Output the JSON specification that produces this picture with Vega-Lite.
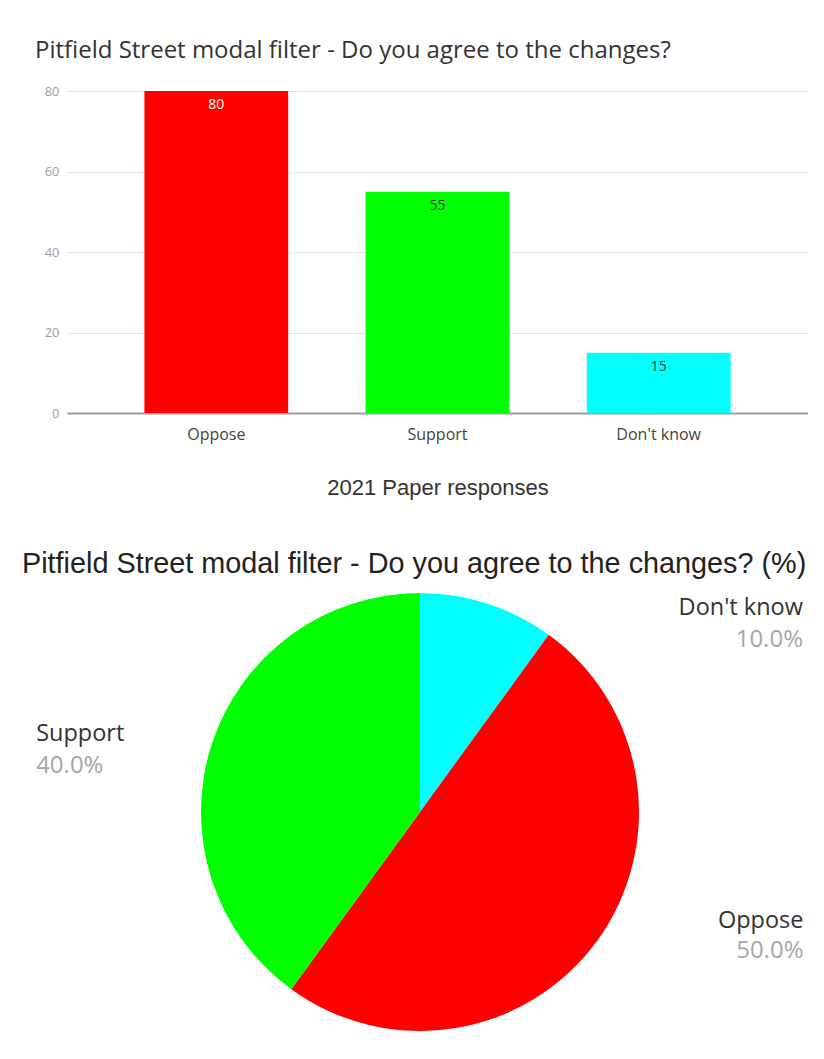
{
  "$schema": "https://vega.github.io/schema/vega-lite/v6.json",
  "background": "white",
  "padding": {"left": 22, "top": 39, "right": 0, "bottom": 0},
  "config": {"view": {"stroke": null}, "concat": {"spacing": 52}},
  "vconcat": [
    {
      "title": {"text": "Pitfield Street modal filter - Do you agree to the changes?", "anchor": "start", "frame": "group", "font": "Open Sans", "fontSize": 24, "fontWeight": "normal", "color": "#333333", "dx": -32, "offset": 22},
      "width": 741,
      "height": 322,
      "data": {"values": [
        {"response": "Oppose", "count": 80},
        {"response": "Support", "count": 55},
        {"response": "Don't know", "count": 15}
      ]},
      "encoding": {
        "x": {"field": "response", "type": "nominal", "sort": null,
          "scale": {"paddingInner": 0.35, "paddingOuter": 0.35},
          "axis": {"title": "2021 Paper responses", "labelAngle": 0, "labelFont": "Open Sans", "labelFontSize": 16, "labelColor": "#444444", "ticks": false, "labelPadding": 13, "domainColor": "#9e9e9e", "domainWidth": 2, "titleFont": "Liberation Sans", "titleFontSize": 22, "titleFontWeight": "normal", "titleColor": "#333333", "titlePadding": 35}},
        "y": {"field": "count", "type": "quantitative",
          "scale": {"domain": [0, 80], "nice": false},
          "axis": {"title": null, "values": [0, 20, 40, 60, 80], "domain": false, "ticks": false, "labelFont": "Open Sans", "labelFontSize": 13, "labelColor": "#9e9e9e", "labelPadding": 8, "gridColor": "#e3e3e3", "minExtent": 45, "maxExtent": 45}}
      },
      "layer": [
        {"mark": {"type": "bar"},
         "encoding": {"color": {"field": "response", "type": "nominal", "scale": {"domain": ["Oppose", "Support", "Don't know"], "range": ["#ff0000", "#00ff00", "#00ffff"]}, "legend": null}}},
        {"mark": {"type": "text", "baseline": "top", "dy": 7, "font": "Open Sans", "fontSize": 14},
         "encoding": {"text": {"field": "count", "type": "quantitative"},
           "color": {"condition": {"test": "datum.count >= 80", "value": "#ffffff"}, "value": "#333333"}}}
      ]
    },
    {
      "title": {"text": "Pitfield Street modal filter - Do you agree to the changes? (%)", "anchor": "start", "frame": "group", "font": "Liberation Sans", "fontSize": 28.8, "fontWeight": "normal", "color": "#222222", "dx": -45, "offset": 14},
      "width": 706,
      "height": 438,
      "data": {"values": [
        {"category": "Don't know", "share": 0.10},
        {"category": "Oppose", "share": 0.50},
        {"category": "Support", "share": 0.40}
      ]},
      "encoding": {
        "theta": {"field": "share", "type": "quantitative", "stack": true},
        "order": {"field": "category", "sort": "ascending"}
      },
      "layer": [
        {"mark": {"type": "arc", "outerRadius": 219},
         "encoding": {"color": {"field": "category", "type": "nominal", "scale": {"domain": ["Don't know", "Oppose", "Support"], "range": ["#00ffff", "#ff0000", "#00ff00"]}, "legend": null}}},
        {"mark": {"type": "text", "radius": 207, "baseline": "alphabetic", "font": "Open Sans", "fontSize": 23.5, "color": "#333333",
          "align": {"expr": "datum.category === 'Support' ? 'left' : 'right'"},
          "dx": {"expr": "datum.category === 'Support' ? -187 : (datum.category === 'Oppose' ? 216 : 319)"},
          "dy": {"expr": "datum.category === 'Support' ? -7 : (datum.category === 'Oppose' ? -6 : 0)"}},
         "encoding": {"text": {"field": "category", "type": "nominal"}}},
        {"mark": {"type": "text", "radius": 207, "baseline": "alphabetic", "font": "Open Sans", "fontSize": 24, "color": "#a6a6a6",
          "align": {"expr": "datum.category === 'Support' ? 'left' : 'right'"},
          "dx": {"expr": "datum.category === 'Support' ? -187 : (datum.category === 'Oppose' ? 216 : 319)"},
          "dy": {"expr": "datum.category === 'Support' ? 25 : (datum.category === 'Oppose' ? 24 : 32)"}},
         "encoding": {"text": {"field": "share", "type": "quantitative", "format": ".1%"}}}
      ]
    }
  ]
}
